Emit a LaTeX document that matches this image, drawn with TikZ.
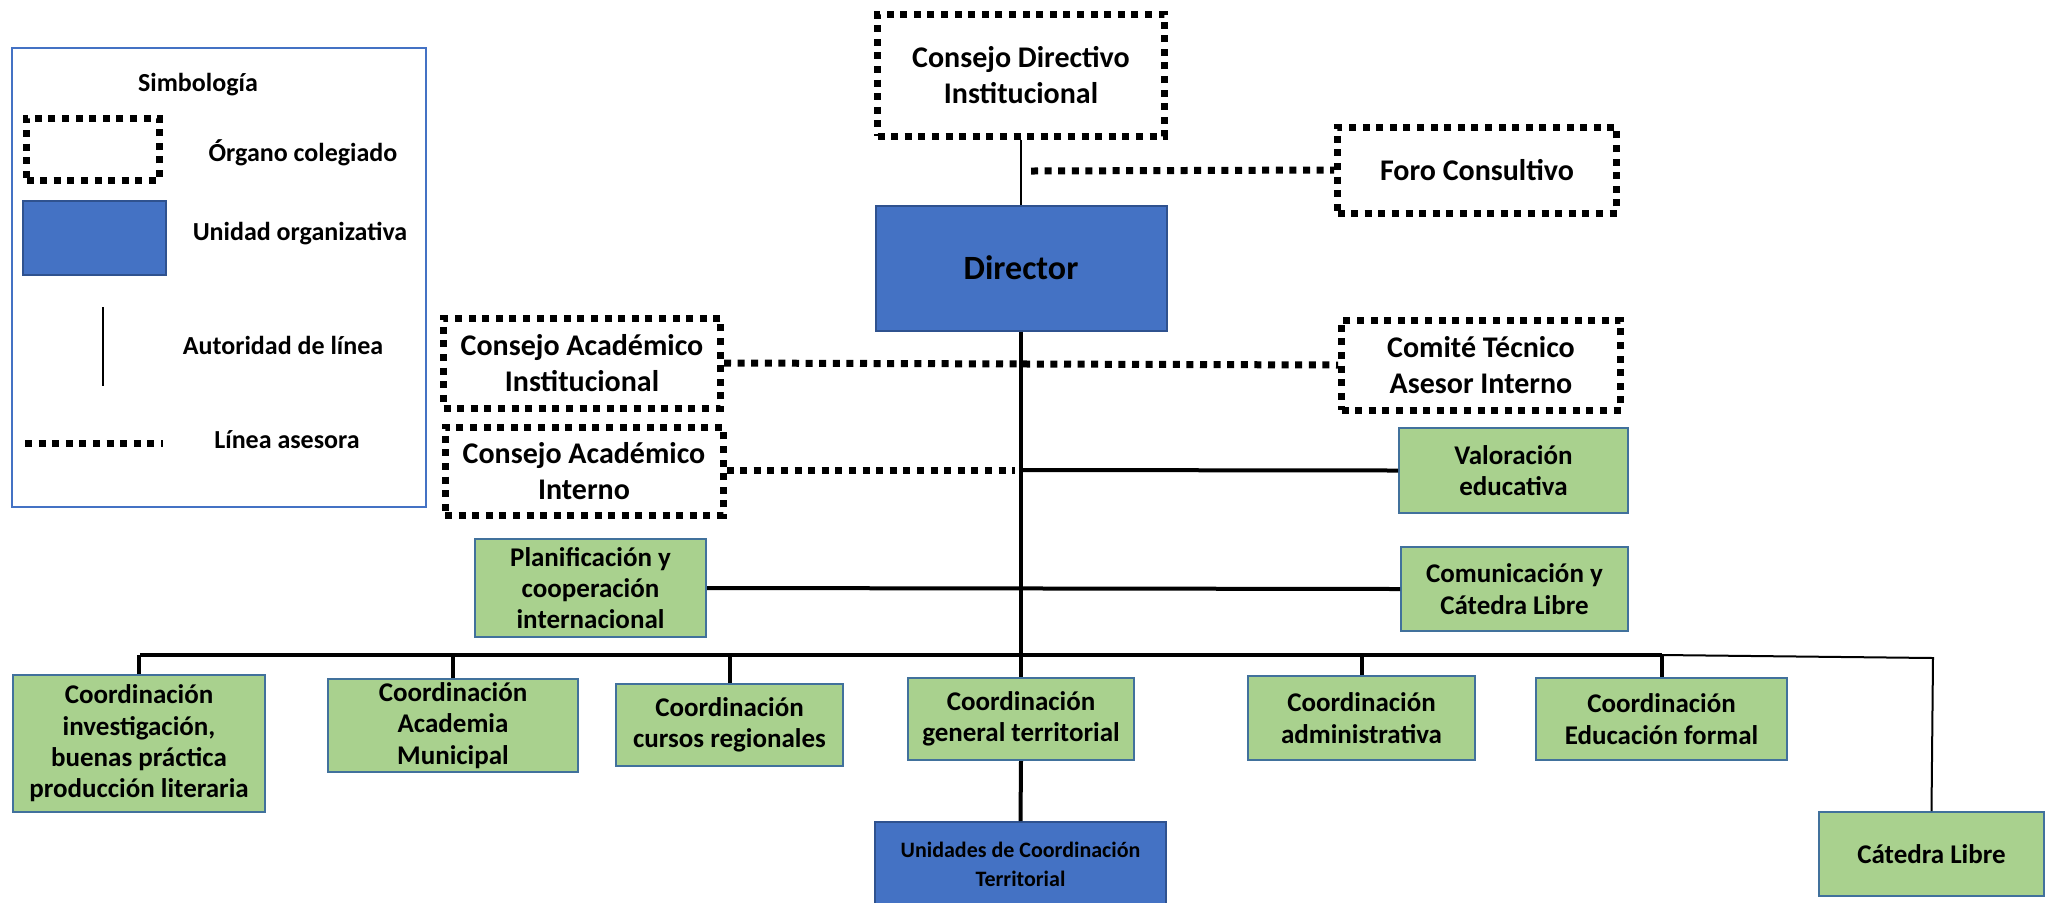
\documentclass[tikz,border=0pt]{standalone}
\usepackage{fontspec}
\setmainfont{Carlito}
\definecolor{grfill}{HTML}{A9D18E}
\definecolor{grborder}{HTML}{41719C}
\definecolor{blfill}{HTML}{4472C4}
\definecolor{blborder}{HTML}{2F528F}
\begin{document}
\begin{tikzpicture}[
 x=0.5pt, y=-0.5pt,
 dotbox/.style={draw, line width=3.5pt, dash pattern=on 3.5pt off 3.3pt, align=center, font=\fontsize{15}{18}\selectfont\bfseries, inner sep=0pt},
 grbox/.style={draw=grborder, fill=grfill, line width=1pt, align=center, font=\fontsize{13.5}{15.7}\selectfont\bfseries, inner sep=0pt},
 blbox/.style={draw=blborder, fill=blfill, line width=1pt, inner sep=0pt, align=center},
 sz/.style 2 args={minimum width=#1*0.5pt, minimum height=#2*0.5pt},
 thickline/.style={line width=2pt},
 thinline/.style={line width=1pt},
 dotline/.style={line width=3.5pt, dash pattern=on 3.5pt off 3.3pt},
 legtext/.style={font=\fontsize{13}{15}\selectfont\bfseries, inner sep=0pt},
]
\useasboundingbox (0,0) rectangle (2047,902);

% Legend
\node[draw=blfill, line width=1pt, sz={414}{459}, inner sep=0pt] (legend) at (219,277.5) {};
\node[legtext] (lsimb) at (198,85) {Simbología};
\node[dotbox, sz={133}{62}] (ldot) at (93,149) {};
\node[legtext] (lorg) at (303,153) {Órgano colegiado};
\node[blbox, sz={143}{74}] (lblue) at (94.5,238) {};
\node[legtext] (luni) at (300,234) {Unidad organizativa};
\coordinate (lva) at (103,307);
\coordinate (lvb) at (103,386);
\draw[line width=1.3pt] (lva) -- (lvb);
\node[legtext] (laut) at (283,345) {Autoridad de línea};
\coordinate (lda) at (25,443);
\coordinate (ldb) at (163,443);
\draw[dotline] (lda) -- (ldb);
\node[legtext] (llin) at (287,440) {Línea asesora};

% Upper nodes
\node[dotbox, sz={287}{122}] (cdi) at (1021,75) {Consejo Directivo\\Institucional};
\node[dotbox, sz={279}{86}] (foro) at (1477,170) {Foro Consultivo};
\node[blbox, sz={291}{125}, font=\fontsize{17}{20}\selectfont\bfseries] (dir) at (1021,268) {Director};
\node[dotbox, sz={277}{90}] (cai) at (582,363) {Consejo Académico\\Institucional};
\node[dotbox, sz={278}{88}] (cain) at (584,471) {Consejo Académico\\Interno};
\node[dotbox, sz={279}{90}] (cta) at (1481,365) {Comité Técnico\\Asesor Interno};
\node[grbox, sz={229}{85}] (valor) at (1513.5,470.5) {Valoración\\educativa};
\node[grbox, sz={231}{98}] (plan) at (590.5,588) {Planificación y\\cooperación\\internacional};
\node[grbox, sz={227}{84}] (comun) at (1514.5,589) {Comunicación y\\Cátedra Libre};

% Bottom row
\node[grbox, sz={252}{137}] (c1) at (139,743.5) {Coordinación\\investigación,\\buenas práctica\\producción literaria};
\node[grbox, sz={250}{93}] (c2) at (453,725.5) {Coordinación\\Academia\\Municipal};
\node[grbox, sz={227}{82}] (c3) at (729.5,725) {Coordinación\\cursos regionales};
\node[grbox, sz={226}{82}] (c4) at (1021,719) {Coordinación\\general territorial};
\node[grbox, sz={227}{84}] (c5) at (1361.5,718) {Coordinación\\administrativa};
\node[grbox, sz={251}{82}] (c6) at (1661.5,719) {Coordinación\\Educación formal};
\node[blbox, sz={291}{84}, font=\fontsize{11}{14.5}\selectfont\bfseries] (unid) at (1020.5,864) {Unidades de Coordinación\\Territorial};
\node[grbox, sz={225}{84}] (cat) at (1931.5,854) {Cátedra Libre};

% Coordinates
\coordinate (foroA) at (1031,171);
\coordinate (cainB) at (1015,470);
\coordinate (valA) at (1021,470);
\coordinate (busL) at (140,655);
\coordinate (busM) at (1662,655);
\coordinate (busR) at (1933,658);

% Connectors
\draw[thinline] (cdi.south) -- (dir.north);
\draw[dotline] (foroA) -- (foro.west);
\draw[thickline] (dir.south) -- (c4.north);
\draw[dotline] (cai.east) -- (cta.west);
\draw[dotline] (cain.east |- cainB) -- (cainB);
\draw[thickline] (valA) -- (valor.west);
\draw[thickline] (plan.east) -- (comun.west);
\draw[thickline] (busL) -- (busM);
\draw[thinline] (busM) -- (busR) -- (cat.north);
\draw[thickline] (c1.north) -- (c1.north |- busL);
\draw[thickline] (c2.north) -- (c2.north |- busL);
\draw[thickline] (c3.north) -- (c3.north |- busL);
\draw[thickline] (c5.north) -- (c5.north |- busL);
\draw[thickline] (c6.north) -- (c6.north |- busL);
\draw[thickline] (c4.south) -- (unid.north);
\end{tikzpicture}
\end{document}
